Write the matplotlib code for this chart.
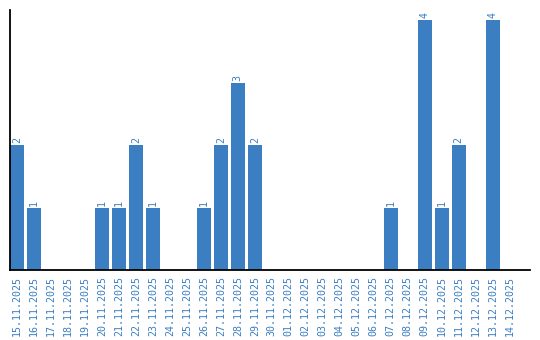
import matplotlib.pyplot as plt

dates = ["15.11.2025", "16.11.2025", "17.11.2025", "18.11.2025", "19.11.2025",
         "20.11.2025", "21.11.2025", "22.11.2025", "23.11.2025", "24.11.2025",
         "25.11.2025", "26.11.2025", "27.11.2025", "28.11.2025", "29.11.2025",
         "30.11.2025", "01.12.2025", "02.12.2025", "03.12.2025", "04.12.2025",
         "05.12.2025", "06.12.2025", "07.12.2025", "08.12.2025", "09.12.2025",
         "10.12.2025", "11.12.2025", "12.12.2025", "13.12.2025", "14.12.2025"]
counts = [2, 1, 0, 0, 0, 1, 1, 2, 1, 0,
          0, 1, 2, 3, 2, 0, 0, 0, 0, 0,
          0, 0, 1, 0, 4, 1, 2, 0, 4, 0]

blue = "#3b7ec1"

fig = plt.figure(figsize=(5.4, 3.4), dpi=100)
ax = fig.add_axes([10 / 540, 70 / 340, 520 / 540, 260 / 340])

x = list(range(len(dates)))
ax.bar(x, counts, width=0.82, color=blue)

for i, v in enumerate(counts):
    if v > 0:
        ax.text(i, v + 0.03, str(v), rotation=90, ha="center", va="bottom",
                color=blue, fontsize=7.2, family="DejaVu Sans Mono")

ax.set_xlim(-0.41, 30.2)
ax.set_ylim(0, 4.16)
ax.set_xticks(x)
ax.set_xticklabels(dates, rotation=90, color=blue, fontsize=7.2,
                   family="DejaVu Sans Mono")
ax.tick_params(axis="x", length=0, pad=4)
ax.set_yticks([])
ax.spines["top"].set_visible(False)
ax.spines["right"].set_visible(False)
ax.spines["left"].set_linewidth(1.3)
ax.spines["bottom"].set_linewidth(1.3)

fig.savefig("out.png", dpi=100)
